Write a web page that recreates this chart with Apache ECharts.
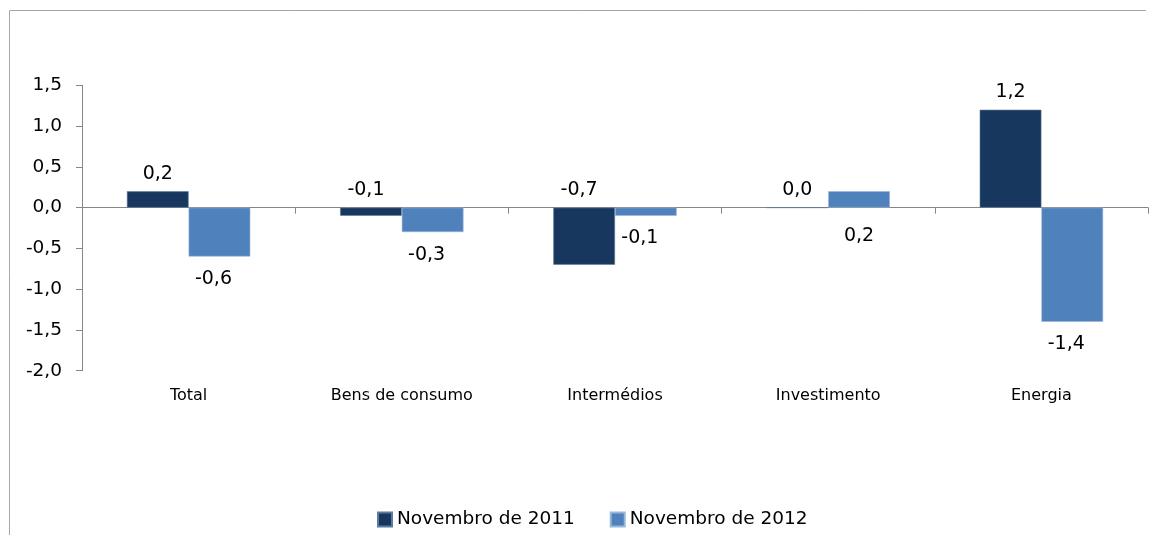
<!DOCTYPE html>
<html>
<head>
<meta charset="utf-8">
<script src="https://cdn.jsdelivr.net/npm/echarts@6/dist/echarts.min.js"></script>
<style>html,body{margin:0;padding:0;background:#fff;overflow:hidden;}#c{width:1149px;height:535px;}</style>
</head>
<body>
<div id="c"></div>
<script>
const categories = ['Total', 'Bens de consumo', 'Intermédios', 'Investimento', 'Energia'];
const seriesNames = ['Novembro de 2011', 'Novembro de 2012'];
const nov2011 = [0.2, -0.1, -0.7, 0.0, 1.2];
const nov2012 = [-0.6, -0.3, -0.1, 0.2, -1.4];
const yTicks = [-2.0, -1.5, -1.0, -0.5, 0.0, 0.5, 1.0, 1.5];

const fmt = v => v.toFixed(1).replace('.', ',');
const FONT = 'DejaVu Sans';

function topItems(arr) {
  return arr.map(v => ({
    value: v,
    label: { position: 'top', distance: 8, offset: [v < 0 ? -5 : 0, 0] }
  }));
}
function bottomItems(arr) {
  return arr.map(v => ({
    value: v,
    label: { position: 'bottom', distance: v > 0 ? 19 : 13, offset: [v < 0 ? -6 : 0, 0] }
  }));
}

const chart = echarts.init(document.getElementById('c'), null, { renderer: 'canvas' });
chart.setOption({
  animation: false,
  backgroundColor: '#fff',
  graphic: [
    { type: 'line', shape: { x1: 9.5, y1: 10.5, x2: 1146, y2: 10.5 },
      style: { stroke: '#a6a6a6', lineWidth: 1 }, silent: true, z: -10 },
    { type: 'line', shape: { x1: 9.5, y1: 10.5, x2: 9.5, y2: 535 },
      style: { stroke: '#a6a6a6', lineWidth: 1 }, silent: true, z: -10 }
  ],
  grid: { left: 82, top: 85.3, width: 1066, height: 285.4, containLabel: false, outerBoundsMode: 'none', show: false },
  legend: {
    left: 372, top: 505,
    itemWidth: 14, itemHeight: 14, itemGap: 35,
    textStyle: { fontFamily: FONT, fontSize: 18.5, color: '#000' },
    data: seriesNames.map(n => ({ name: n, icon: 'rect' }))
  },
  xAxis: [
    {
      type: 'category', data: categories,
      axisLine: { onZero: true, lineStyle: { color: '#868686', width: 1 } },
      axisTick: { show: true, length: 6, lineStyle: { color: '#868686' } },
      axisLabel: { show: false },
      splitLine: { show: false }
    },
    {
      type: 'category', data: categories, position: 'bottom',
      axisLine: { show: false, onZero: false },
      axisTick: { show: false },
      axisLabel: { margin: 17, fontFamily: FONT, fontSize: 16, color: '#000' },
      splitLine: { show: false }
    }
  ],
  yAxis: {
    type: 'value', min: -2, max: 1.5, interval: 0.5,
    axisLine: { show: true, lineStyle: { color: '#868686', width: 1 } },
    axisTick: { show: true, length: 6, lineStyle: { color: '#868686' } },
    axisLabel: { margin: 20, fontFamily: FONT, fontSize: 18.5, color: '#000',
      formatter: v => yTicks.includes(Math.round(v * 10) / 10) ? fmt(v) : '' },
    splitLine: { show: false }
  },
  series: [
    {
      name: seriesNames[0], type: 'bar', xAxisIndex: 0, barWidth: 61.7, barGap: '0%',
      itemStyle: { color: '#17375e', borderColor: '#5f7a9c', borderWidth: 0.6 },
      label: { show: true, fontFamily: FONT, fontSize: 19, color: '#000',
        formatter: p => fmt(p.value) },
      data: topItems(nov2011)
    },
    {
      name: seriesNames[1], type: 'bar', xAxisIndex: 0, barWidth: 61.7, barGap: '0%',
      itemStyle: { color: '#4f81bd', borderColor: '#9ab6d9', borderWidth: 0.6 },
      label: { show: true, fontFamily: FONT, fontSize: 19, color: '#000',
        formatter: p => fmt(p.value) },
      data: bottomItems(nov2012)
    }
  ]
});
</script>
</body>
</html>
